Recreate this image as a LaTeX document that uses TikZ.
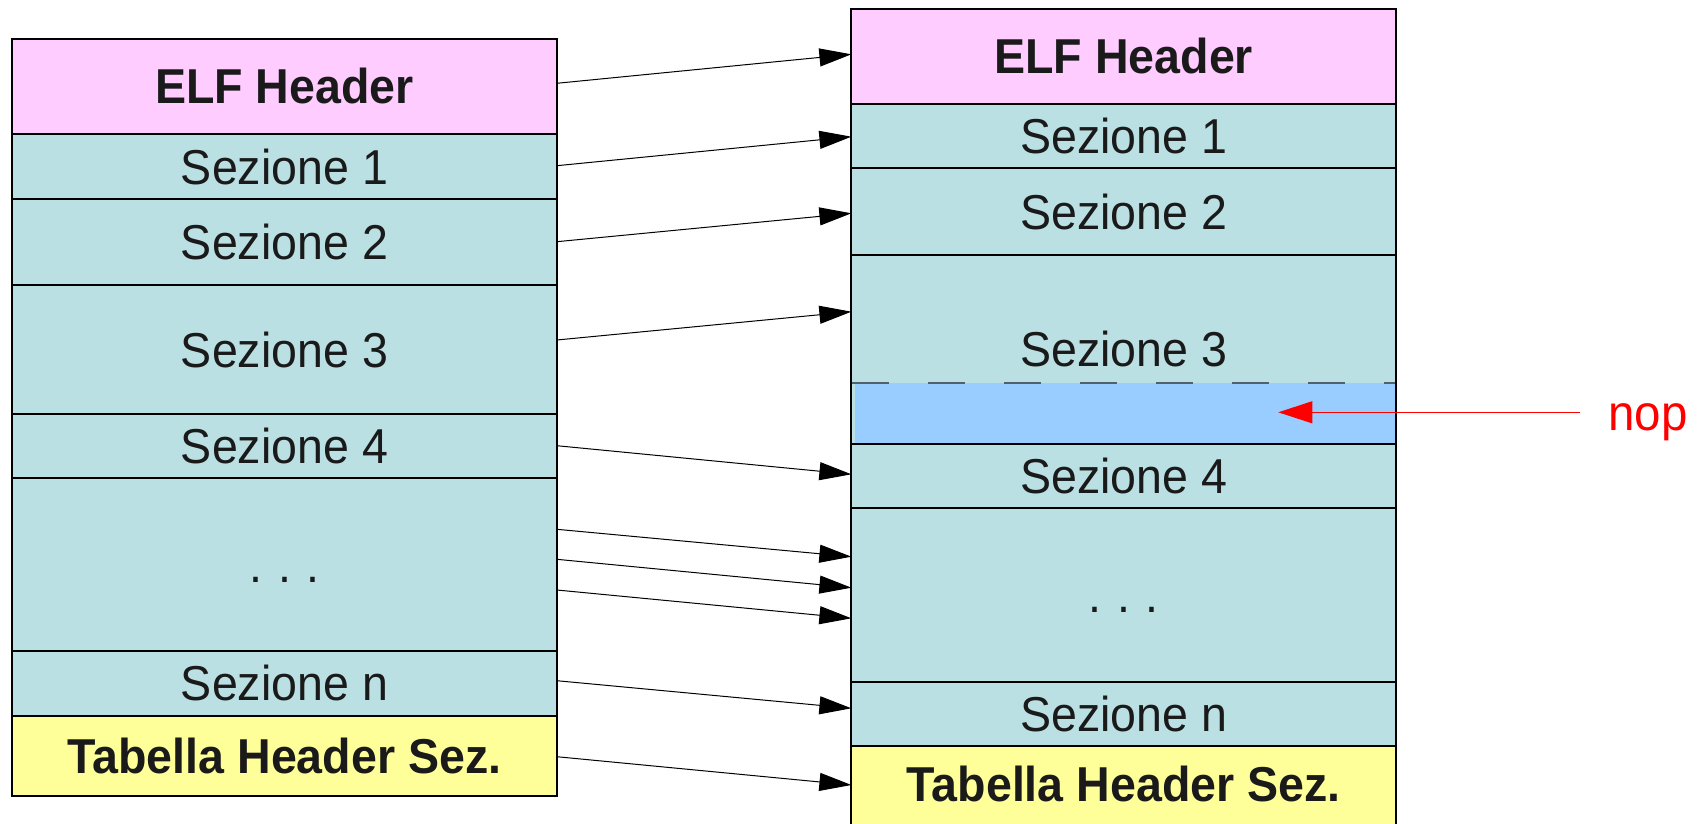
\documentclass[tikz,border=0pt]{standalone}
\usepackage{fontspec}
\newfontfamily\diagfont{Liberation Sans}[FakeStretch=0.95]
\usetikzlibrary{arrows.meta}
\definecolor{pinkfill}{RGB}{255,204,255}
\definecolor{secfill}{RGB}{187,224,227}
\definecolor{yelfill}{RGB}{255,255,153}
\definecolor{nopfill}{RGB}{153,204,255}
\definecolor{txt}{RGB}{26,26,26}
\definecolor{dashcol}{RGB}{80,96,110}
\tikzset{
  box/.style={draw=black, line width=2pt, inner sep=0pt, outer sep=0pt,
    minimum width=544.6pt, text height=34.7pt, text depth=0pt, text=txt,
    font=\diagfont\fontsize{49pt}{58pt}\selectfont},
  hdr/.style={box, fill=pinkfill, font=\diagfont\bfseries\fontsize{49pt}{58pt}\selectfont},
  sec/.style={box, fill=secfill},
  tab/.style={box, fill=yelfill, font=\diagfont\bfseries\fontsize{49pt}{58pt}\selectfont},
  conn/.style={draw=black, line width=1pt, -{Triangle[length=32pt,width=18pt]}},
  redconn/.style={draw=red, line width=1.1pt, -{Triangle[length=34pt,width=22pt]}}
}
\newcommand{\dotsrow}{.\kern15.8pt.\kern15.8pt.}
\begin{document}
\begin{tikzpicture}[x=1pt,y=-1pt]
\useasboundingbox (0,0) rectangle (1706,824);
% left column
\node[hdr, minimum height=95.3pt] (L0) at (284.5,86.65) {ELF Header};
\node[sec, minimum height=64.7pt] (L1) at (284.5,166.65) {Sezione 1};
\node[sec, minimum height=86pt] (L2) at (284.5,242) {Sezione 2};
\node[sec, minimum height=129.3pt] (L3) at (284.5,349.65) {Sezione 3};
\node[sec, minimum height=63.7pt] (L4) at (284.5,446.15) {Sezione 4};
\node[sec, minimum height=173.3pt] (L5) at (284.5,564.65) {\dotsrow};
\node[sec, minimum height=64.4pt] (L6) at (284.5,683.5) {Sezione n};
\node[tab, minimum height=80pt] (L7) at (284.5,755.7) {Tabella Header Sez.};
% right column
\node[hdr, minimum height=95.6pt] (R0) at (1123.7,56.5) {ELF Header};
\node[sec, minimum height=64pt] (R1) at (1123.7,136.3) {Sezione 1};
\node[sec, minimum height=86.7pt] (R2) at (1123.7,211.65) {Sezione 2};
\node[sec, minimum height=189pt] (R3) at (1123.7,349.5) {Sezione 3};
\fill[nopfill] (855,383.3) rectangle (1395,443);
\draw[dashcol, line width=1.8pt, dash pattern=on 37pt off 39pt] (852.4,383.3) -- (1395,383.3);
\node[sec, minimum height=64.3pt] (R4) at (1123.7,476.15) {Sezione 4};
\node[sec, minimum height=173.7pt] (R5) at (1123.7,595.15) {\dotsrow};
\node[sec, minimum height=64.4pt] (R6) at (1123.7,714.2) {Sezione n};
\node[tab, minimum height=83.6pt, text depth=8pt] (R7) at (1123.7,788.2) {Tabella Header Sez.};
% connectors
\draw[conn] ([yshift=3.35pt]L0.east) -- ([yshift=2.2pt]R0.west);
\draw[conn] ([yshift=0.95pt]L1.east) -- ([yshift=-0.4pt]R1.west);
\draw[conn] ([yshift=0.3pt]L2.east) -- ([yshift=-1.65pt]R2.west);
\draw[conn] ([yshift=9.65pt]L3.east) -- ([yshift=37.8pt]R3.west);
\draw[conn] ([yshift=0.45pt]L4.east) -- ([yshift=1.85pt]R4.west);
\draw[conn] ([yshift=35.35pt]L5.east) -- ([yshift=38.45pt]R5.west);
\draw[conn] ([yshift=5.35pt]L5.east) -- ([yshift=7.45pt]R5.west);
\draw[conn] ([yshift=-25.35pt]L5.east) -- ([yshift=-23.15pt]R5.west);
\draw[conn] ([yshift=2.8pt]L6.east) -- ([yshift=5.9pt]R6.west);
\draw[conn] ([yshift=-1pt]L7.east) -- ([yshift=3.2pt]R7.west);
% nop
\node[anchor=base west, inner sep=0pt, text=red, font=\diagfont\fontsize{50pt}{60pt}\selectfont] (nop) at (1608,430) {nop};
\coordinate (nopS) at (1580,412.3);
\coordinate (nopT) at (1278.3,412.3);
\draw[redconn] (nopS) -- (nopT);
\end{tikzpicture}
\end{document}
